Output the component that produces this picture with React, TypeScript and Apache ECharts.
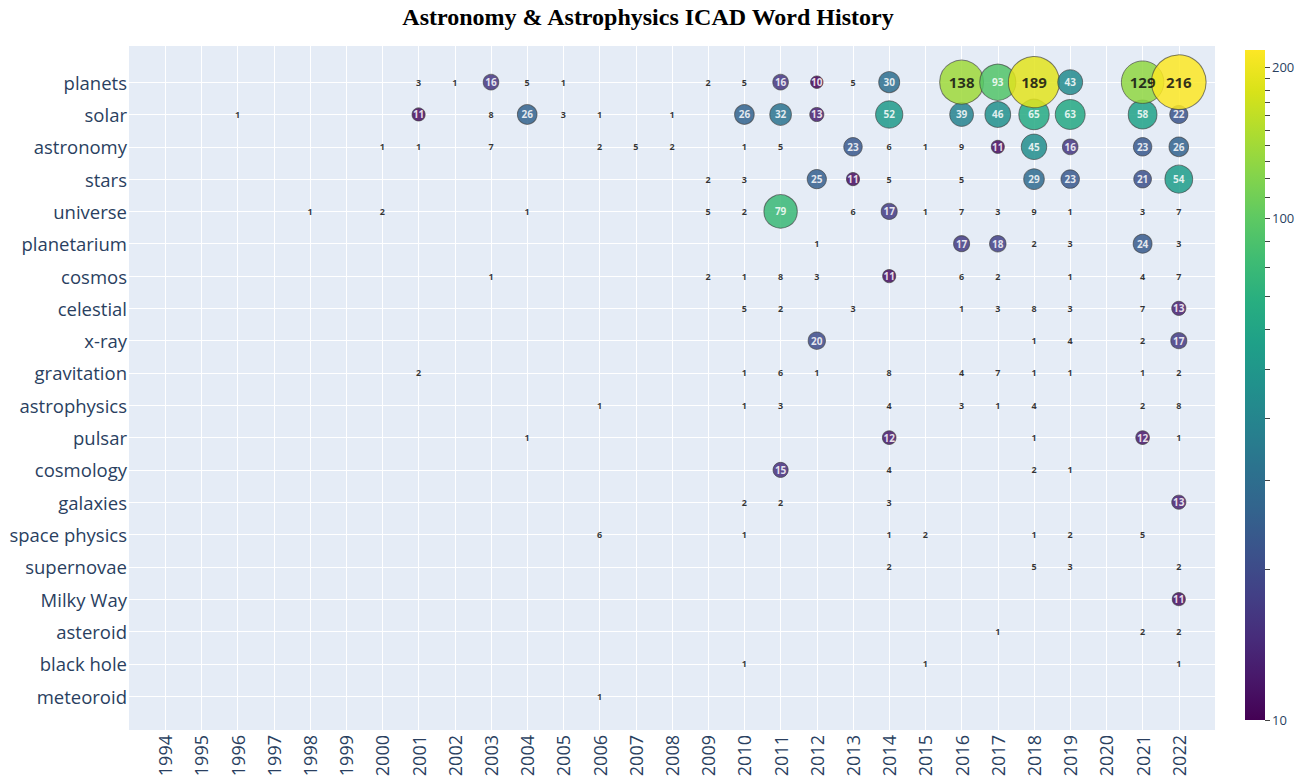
import React, { useEffect, useRef } from "react";
import * as echarts from "echarts";

const years: number[] = [1994, 1995, 1996, 1997, 1998, 1999, 2000, 2001, 2002, 2003, 2004, 2005, 2006, 2007, 2008, 2009, 2010, 2011, 2012, 2013, 2014, 2015, 2016, 2017, 2018, 2019, 2020, 2021, 2022];

const words: string[] = ["planets", "solar", "astronomy", "stars", "universe", "planetarium", "cosmos", "celestial", "x-ray", "gravitation", "astrophysics", "pulsar", "cosmology", "galaxies", "space physics", "supernovae", "Milky Way", "asteroid", "black hole", "meteoroid"];

// [year, count]
const planets: [number, number][] = [[2001, 3], [2002, 1], [2003, 16], [2004, 5], [2005, 1], [2009, 2], [2010, 5], [2011, 16], [2012, 10], [2013, 5], [2014, 30], [2016, 138], [2017, 93], [2018, 189], [2019, 43], [2021, 129], [2022, 216]];
const solar: [number, number][] = [[1996, 1], [2001, 11], [2003, 8], [2004, 26], [2005, 3], [2006, 1], [2008, 1], [2010, 26], [2011, 32], [2012, 13], [2014, 52], [2016, 39], [2017, 46], [2018, 65], [2019, 63], [2021, 58], [2022, 22]];
const astronomy: [number, number][] = [[2000, 1], [2001, 1], [2003, 7], [2006, 2], [2007, 5], [2008, 2], [2010, 1], [2011, 5], [2013, 23], [2014, 6], [2015, 1], [2016, 9], [2017, 11], [2018, 45], [2019, 16], [2021, 23], [2022, 26]];
const stars: [number, number][] = [[2009, 2], [2010, 3], [2012, 25], [2013, 11], [2014, 5], [2016, 5], [2018, 29], [2019, 23], [2021, 21], [2022, 54]];
const universe: [number, number][] = [[1998, 1], [2000, 2], [2004, 1], [2009, 5], [2010, 2], [2011, 79], [2013, 6], [2014, 17], [2015, 1], [2016, 7], [2017, 3], [2018, 9], [2019, 1], [2021, 3], [2022, 7]];
const planetarium: [number, number][] = [[2012, 1], [2016, 17], [2017, 18], [2018, 2], [2019, 3], [2021, 24], [2022, 3]];
const cosmos: [number, number][] = [[2003, 1], [2009, 2], [2010, 1], [2011, 8], [2012, 3], [2014, 11], [2016, 6], [2017, 2], [2019, 1], [2021, 4], [2022, 7]];
const celestial: [number, number][] = [[2010, 5], [2011, 2], [2013, 3], [2016, 1], [2017, 3], [2018, 8], [2019, 3], [2021, 7], [2022, 13]];
const xray: [number, number][] = [[2012, 20], [2018, 1], [2019, 4], [2021, 2], [2022, 17]];
const gravitation: [number, number][] = [[2001, 2], [2010, 1], [2011, 6], [2012, 1], [2014, 8], [2016, 4], [2017, 7], [2018, 1], [2019, 1], [2021, 1], [2022, 2]];
const astrophysics: [number, number][] = [[2006, 1], [2010, 1], [2011, 3], [2014, 4], [2016, 3], [2017, 1], [2018, 4], [2021, 2], [2022, 8]];
const pulsar: [number, number][] = [[2004, 1], [2014, 12], [2018, 1], [2021, 12], [2022, 1]];
const cosmology: [number, number][] = [[2011, 15], [2014, 4], [2018, 2], [2019, 1]];
const galaxies: [number, number][] = [[2010, 2], [2011, 2], [2014, 3], [2022, 13]];
const spacePhysics: [number, number][] = [[2006, 6], [2010, 1], [2014, 1], [2015, 2], [2018, 1], [2019, 2], [2021, 5]];
const supernovae: [number, number][] = [[2014, 2], [2018, 5], [2019, 3], [2022, 2]];
const milkyWay: [number, number][] = [[2022, 11]];
const asteroid: [number, number][] = [[2017, 1], [2021, 2], [2022, 2]];
const blackHole: [number, number][] = [[2010, 1], [2015, 1], [2022, 1]];
const meteoroid: [number, number][] = [[2006, 1]];

const rows = [planets, solar, astronomy, stars, universe, planetarium, cosmos, celestial, xray, gravitation, astrophysics, pulsar, cosmology, galaxies, spacePhysics, supernovae, milkyWay, asteroid, blackHole, meteoroid];

const colorMin = 10;
const colorMax = 216;
const colorbarMinorTicks: number[] = [10, 20, 30, 40, 50, 60, 70, 80, 90, 100, 110, 120, 130, 140, 150, 160, 170, 180, 190, 200];
const colorbarLabels: number[] = [10, 100, 200];

const viridis = ["#440154", "#48186a", "#472d7b", "#424086", "#3b528b", "#33638d", "#2c728e", "#26828e", "#21918c", "#1fa088", "#28ae80", "#3fbc73", "#5ec962", "#84d44b", "#addc30", "#d8e219", "#fde725"];

export default function App() {
  const ref = useRef<HTMLDivElement>(null);
  useEffect(() => {
    if (!ref.current) return;
    const chart = echarts.init(ref.current, undefined, { renderer: "svg" });

    const points: any[] = [];
    for (let r = rows.length - 1; r >= 0; r--) {
      for (const [yr, v] of rows[r]) {
        const dark = v < 10 || v >= 120;
        points.push({
          value: [yr, r, v, Math.log10(Math.max(v, colorMin))],
          label: {
            color: dark ? "#111" : "#ffffff",
            fontSize: v >= 120 ? 15 : v >= 10 ? 10 : 9,
          },
        });
      }
    }

    // colorbar geometry (page coords)
    const cbX = 1245, cbW = 20, cbTop = 50, cbBottom = 720;
    const lmin = Math.log10(colorMin), lmax = Math.log10(colorMax);
    const yOf = (v: number) => cbBottom - ((Math.log10(v) - lmin) / (lmax - lmin)) * (cbBottom - cbTop);
    const graphics: any[] = [
      {
        type: "text",
        x: 648,
        y: 17,
        style: {
          text: "Astronomy & Astrophysics ICAD Word History",
          align: "center",
          verticalAlign: "middle",
          fill: "#000",
          fontSize: 24,
          fontWeight: "bold",
          fontFamily: '"Liberation Serif", "Times New Roman", serif',
        },
      },
      {
        type: "rect",
        shape: { x: cbX, y: cbTop, width: cbW, height: cbBottom - cbTop },
        style: {
          fill: new echarts.graphic.LinearGradient(
            0, 0, 0, 1,
            viridis.slice().reverse().map((c, i) => ({ offset: i / (viridis.length - 1), color: c }))
          ),
        },
      },
    ];
    for (const t of colorbarMinorTicks) {
      const y = Math.round(yOf(t)) + 0.5;
      graphics.push({ type: "line", shape: { x1: cbX + cbW, y1: y, x2: cbX + cbW + 5, y2: y }, style: { stroke: "#444", lineWidth: 1 } });
    }
    for (const t of colorbarLabels) {
      graphics.push({
        type: "text",
        x: cbX + cbW + 7,
        y: yOf(t),
        style: { text: String(t), fill: "#2a3f5f", fontSize: 13, fontFamily: '"Open Sans", sans-serif', verticalAlign: "middle", align: "left" },
      });
    }

    chart.setOption({
      animation: false,
      backgroundColor: "#ffffff",
      grid: { left: 129, right: 96, top: 46, bottom: 48, outerBoundsMode: "none", containLabel: false, show: true, backgroundColor: "#e5ecf6", borderWidth: 0 },
      xAxis: {
        type: "value",
        min: 1993,
        max: 2023,
        axisLine: { show: false },
        axisTick: { show: false, customValues: years },
        axisLabel: {
          customValues: years,
          rotate: 90,
          margin: 5,
          color: "#2a3f5f",
          fontSize: 18,
          fontFamily: '"Open Sans", sans-serif',
          formatter: (v: number) => String(v),
        },
        splitLine: { show: true, lineStyle: { color: "#ffffff", width: 1 } },
      },
      yAxis: {
        type: "value",
        inverse: true,
        min: -1.12,
        max: 20.05,
        axisLine: { show: false },
        axisTick: { show: false, customValues: words.map((_, i) => i) },
        axisLabel: {
          customValues: words.map((_, i) => i),
          margin: 2,
          color: "#2a3f5f",
          fontSize: 18.5,
          fontFamily: '"Open Sans", sans-serif',
          formatter: (v: number) => words[v] ?? "",
        },
        splitLine: { show: true, lineStyle: { color: "#ffffff", width: 1 } },
      },
      visualMap: {
        type: "continuous",
        show: false,
        dimension: 3,
        min: lmin,
        max: lmax,
        seriesIndex: 0,
        inRange: { color: viridis },
      },
      series: [
        {
          type: "scatter",
          silent: true,
          data: points,
          symbol: "circle",
          symbolSize: (val: number[]) => (val[2] >= 10 ? Math.sqrt(val[2]) * 3.65 + 1 : 0),
          itemStyle: { opacity: 0.85, borderColor: "rgba(60,60,60,0.75)", borderWidth: 1 },
          label: {
            show: true,
            position: "inside",
            fontFamily: '"Open Sans", sans-serif',
            fontWeight: "bold",
            formatter: (p: any) => String(p.value[2]),
          },
        },
      ],
      graphic: graphics,
    });
    return () => chart.dispose();
  }, []);
  return <div ref={ref} style={{ position: "absolute", left: 0, top: 0, width: 1311, height: 778 }} />;
}
